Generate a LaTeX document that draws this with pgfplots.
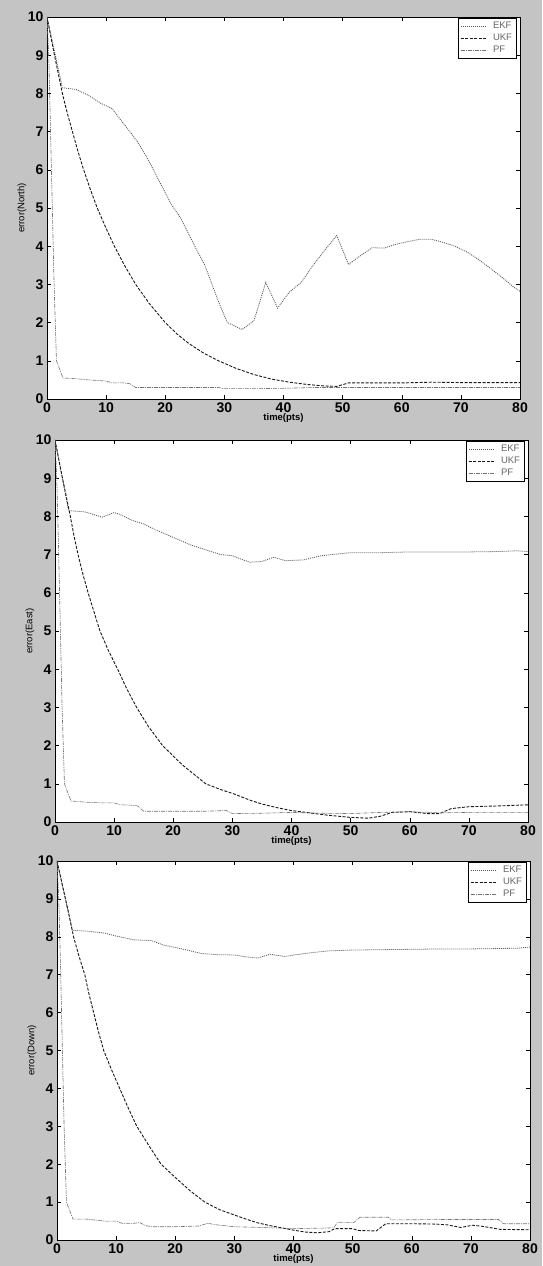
\documentclass[border=0pt]{standalone}
\usepackage{fontspec}
\setmainfont{Liberation Sans}
\usepackage{pgfplots}
\pgfplotsset{compat=1.18}

\definecolor{bggray}{RGB}{196,196,196}

\pgfplotsset{
  errpanel/.style={
    scale only axis,
    width=473pt, height=382pt,
    anchor=south west,
    xmin=0, xmax=80, ymin=0, ymax=10,
    xtick={0,10,...,80}, ytick={0,1,...,10},
    tick align=inside, tick pos=both,
    xticklabel pos=lower, yticklabel pos=left,
    major tick length=4pt,
    tick style={black, line width=0.5pt},
    axis line style={black, line width=0.8pt},
    axis background/.style={fill=white},
    /pgf/number format/assume math mode=true,
    ticklabel style={font=\fontsize{14}{14}\selectfont\bfseries},
    every axis x label/.style={at={(axis description cs:0.5,0)}, yshift=-19pt, anchor=center,
      font=\fontsize{9.5}{10}\selectfont\bfseries},
    every axis y label/.style={at={(axis description cs:0,0.5)}, xshift=-25pt, rotate=90, anchor=center,
      font=\fontsize{9.5}{10}\selectfont},
    xlabel={time(pts)},
    legend style={at={(rel axis cs:0.992,0.997)}, anchor=north east,
      font=\fontsize{9.5}{11}\selectfont, text=black!60, draw=black, fill=white,
      inner sep=2pt, row sep=0pt},
    legend cell align=left,
    legend image code/.code={\draw[#1] (0pt,0pt) -- (26pt,0pt); \path (30pt,0pt);},
  },
  ekf/.style={black!65, line width=0.8pt, dash pattern=on 1pt off 1pt},
  ukf/.style={black!90, line width=0.9pt, dash pattern=on 3pt off 1.5pt},
  pf/.style={black!55, line width=0.6pt, dash pattern=on 4pt off 1pt on 1pt off 1pt},
}

\begin{document}
\begin{tikzpicture}
\fill[bggray] (0,0) rectangle (542pt,1266pt);

% North
\begin{axis}[errpanel, at={(47pt,867pt)}, ylabel={error(North)}]
\addplot[ekf] coordinates {
(0,10) (2.6,8.15) (5,8.1) (7,7.95) (9,7.75) (11,7.6) (13,7.2) (15,6.8) (16,6.56)
(17,6.3) (19,5.7) (20,5.4) (21,5.1) (22.6,4.74) (25,4.0) (26.7,3.5) (29,2.55)
(30.5,2.0) (33,1.82) (35,2.05) (37,3.05) (39,2.38) (41,2.8) (43,3.05) (45,3.5)
(47,3.9) (49,4.28) (51,3.52) (53,3.75) (55,3.96) (57,3.95) (59,4.05) (61,4.12)
(63,4.18) (65,4.18) (67,4.1) (69,4.0) (71,3.85) (73,3.65) (75,3.42) (77,3.18)
(79,2.92) (80,2.82)};
\addplot[ukf] coordinates {
(0,10) (1,9.2) (2,8.45) (2.6,8.0) (3.4,7.5) (4.3,7.0) (5.2,6.5) (6.2,6.0) (7.3,5.5)
(8.5,5.0) (9.9,4.5) (11.4,4.0) (13.1,3.5) (15,3.0) (17.3,2.5) (20,2.0) (22,1.7)
(24,1.45) (26.5,1.2) (29,1.0) (32,0.8) (35,0.64) (38,0.52) (41,0.44) (44,0.38)
(47,0.34) (49,0.33) (51,0.42) (55,0.42) (60,0.42) (65,0.44) (70,0.43) (75,0.43) (80,0.43)};
\addplot[pf] coordinates {
(0,10) (0.3,9) (0.6,7) (1.2,3) (1.6,1.0) (2.7,0.55) (5,0.53) (7,0.5) (9,0.48)
(10,0.47) (11,0.42) (13,0.42) (14,0.4) (15,0.3) (20,0.3) (25,0.3) (29,0.3)
(30,0.27) (35,0.27) (40,0.28) (45,0.3) (50,0.3) (60,0.3) (70,0.3) (80,0.3)};
\legend{EKF, UKF, PF}
\end{axis}

% East
\begin{axis}[errpanel, at={(55pt,444pt)}, ylabel={error(East)}]
\addplot[ekf] coordinates {
(0,10) (2.3,8.15) (5,8.12) (8,7.98) (10,8.1) (11,8.05) (13,7.9) (15,7.8) (17,7.65)
(20,7.45) (23,7.25) (25,7.15) (28,7.0) (30,6.97) (32,6.85) (33,6.8) (35,6.82)
(37,6.93) (39,6.84) (42,6.86) (45,6.97) (48,7.02) (50,7.05) (55,7.05) (60,7.07)
(65,7.07) (70,7.07) (75,7.08) (78,7.1) (80,7.08)};
\addplot[ukf] coordinates {
(0,10) (1,9.2) (2,8.45) (2.6,8.0) (3.2,7.5) (3.9,7.0) (4.7,6.5) (5.6,6.0) (6.6,5.5)
(7.6,5.0) (9,4.5) (10.6,4.0) (12.1,3.5) (13.8,3.0) (15.8,2.5) (18.2,2.0) (21.5,1.5)
(25.5,1.0) (28,0.85) (30,0.75) (33,0.57) (35,0.47) (38,0.36) (40,0.3) (43,0.24)
(46,0.18) (50,0.12) (53,0.1) (55,0.15) (57,0.25) (60,0.27) (63,0.22) (65,0.22)
(67,0.35) (70,0.4) (75,0.42) (80,0.45)};
\addplot[pf] coordinates {
(0,10) (0.3,9) (0.6,7.2) (1.2,3) (1.6,1.0) (2.7,0.55) (5,0.52) (8,0.5) (10,0.5)
(11,0.45) (13,0.44) (14,0.42) (15,0.28) (20,0.28) (25,0.28) (29,0.3) (30,0.22)
(35,0.23) (40,0.25) (45,0.23) (50,0.22) (55,0.25) (60,0.27) (65,0.24) (70,0.25)
(75,0.25) (80,0.25)};
\legend{EKF, UKF, PF}
\end{axis}

% Down
\begin{axis}[errpanel, at={(57pt,26pt)}, height=379pt, ylabel={error(Down)}]
\addplot[ekf] coordinates {
(0,10) (2.6,8.17) (5,8.15) (8,8.1) (10,8.02) (13,7.92) (16,7.9) (18,7.78) (20,7.72)
(22,7.65) (24.4,7.56) (27,7.53) (30,7.52) (32,7.47) (34,7.44) (36,7.54) (38.5,7.48)
(41,7.54) (43,7.58) (46,7.63) (50,7.65) (55,7.66) (60,7.67) (65,7.68) (70,7.68)
(75,7.69) (78,7.7) (80,7.73)};
\addplot[ukf] coordinates {
(0,10) (1,9.3) (2,8.6) (2.8,8.0) (3.7,7.5) (4.7,7.0) (5.4,6.5) (6.2,6.0) (7,5.5)
(7.9,5.0) (9.2,4.5) (10.6,4.0) (12,3.5) (13.5,3.0) (15.5,2.5) (17.6,2.0) (20,1.65)
(22.5,1.3) (25,1.0) (27.5,0.8) (30,0.66) (32,0.55) (34,0.45) (36,0.38) (38,0.32)
(40,0.26) (42,0.21) (44,0.19) (46,0.22) (47,0.3) (50,0.3) (51,0.25) (54,0.24)
(55.6,0.43) (60,0.43) (64,0.42) (66,0.4) (68.3,0.33) (70.3,0.39) (72,0.36) (75,0.28) (80,0.27)};
\addplot[pf] coordinates {
(0,10) (0.3,9) (0.6,7.2) (1.2,3) (1.6,1.0) (2.7,0.55) (5,0.55) (8,0.5) (10,0.5)
(11,0.44) (13,0.44) (14,0.46) (15,0.38) (16,0.35) (20,0.35) (24,0.37) (25.5,0.44)
(27,0.4) (30,0.35) (35,0.33) (40,0.3) (46.8,0.32) (47.4,0.46) (50.2,0.46) (51.2,0.6)
(56,0.6) (56.6,0.53) (65,0.54) (74.7,0.54) (75.5,0.43) (80,0.43)};
\legend{EKF, UKF, PF}
\end{axis}

\pgfresetboundingbox
\path[use as bounding box] (0,0) rectangle (542pt,1266pt);
\end{tikzpicture}
\end{document}
